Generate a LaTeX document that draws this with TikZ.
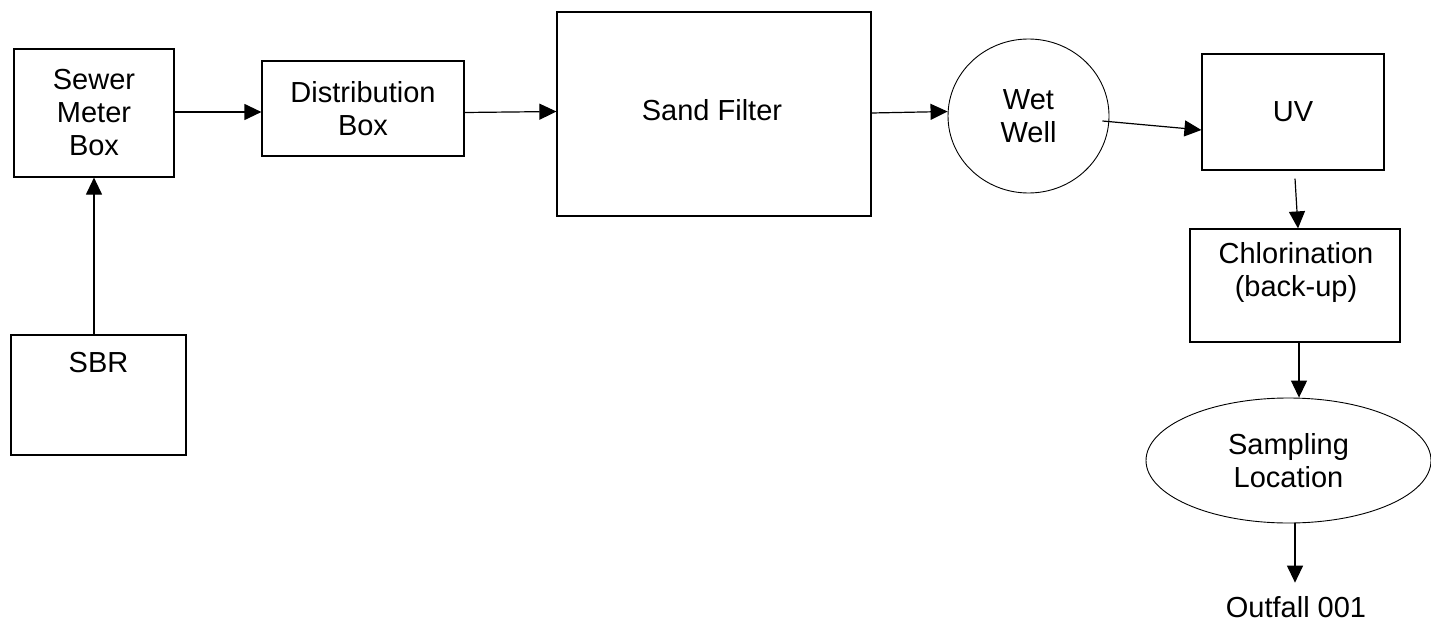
\documentclass[tikz,border=0pt]{standalone}
\usepackage{fontspec}
\setmainfont{Liberation Sans}
\usetikzlibrary{shapes.geometric,arrows.meta,calc}

\tikzset{
  unitbox/.style={draw, line width=1.2pt, inner sep=0pt},
  roundunit/.style={draw, ellipse, line width=0.9pt, inner sep=0pt},
  flow/.style={line width=1.2pt, -{Triangle[length=17pt,width=16pt]}},
  txt/.style={align=center, inner sep=0pt, font=\fontsize{29}{33}\selectfont},
}

\begin{document}
\begin{tikzpicture}[x=1pt, y=-1pt]
  \useasboundingbox (0,0) rectangle (1431,623);

  % process units
  \node[unitbox, txt, minimum width=160pt, minimum height=128pt] (smb) at (94,113) {Sewer\\Meter\\Box};
  \node[unitbox, txt, minimum width=202pt, minimum height=95pt] (dist) at (363,108.5) {Distribution\\Box};
  \node[unitbox, txt, minimum width=314pt, minimum height=204pt] (sf) at (714,114) {};
  \node[txt] at (712,110) {Sand Filter};
  \node[roundunit, txt, minimum width=161pt, minimum height=154pt] (ww) at (1028.5,116) {Wet\\Well};
  \node[unitbox, txt, minimum width=182pt, minimum height=116pt] (uv) at (1293,112) {UV};
  \node[unitbox, minimum width=210pt, minimum height=113pt] (chl) at (1295,285.5) {};
  \node[txt] at (1296,272) {Chlorination\\(back-up)};
  \node[roundunit, txt, minimum width=285pt, minimum height=125pt] (samp) at (1288.5,460.5) {Sampling\\Location};
  \node[txt] (out) at (1296,607.5) {Outfall 001};
  \node[unitbox, minimum width=175pt, minimum height=120pt] (sbr) at (98.5,395) {};
  \node[txt] at (98.5,363) {SBR};

  % flow connections
  \draw[flow] (smb.south |- sbr.north) -- (smb.south);
  \draw[flow] ($(smb.east)+(-2,-1)$) -- ($(dist.west)+(0,3.5)$);
  \draw[flow] ($(dist.east)+(0,4)$) -- ($(sf.west)+(0,-2.5)$);
  \draw[flow] ($(sf.east)+(0,-1)$) -- ($(ww.west)+(0,-4.5)$);
  \draw[flow] ($(ww.east)+(-7,5)$) -- ($(uv.west)+(0,18)$);
  \draw[flow] ($(uv.south)+(2,8)$) -- ($(chl.north)+(3,0)$);
  \draw[flow] ($(chl.south)+(4,0)$) -- ($(samp.north)+(10.5,0)$);
  \draw[flow] ($(samp.south)+(6.5,0)$) -- ($(out.north)+(-1,-14)$);
\end{tikzpicture}
\end{document}
